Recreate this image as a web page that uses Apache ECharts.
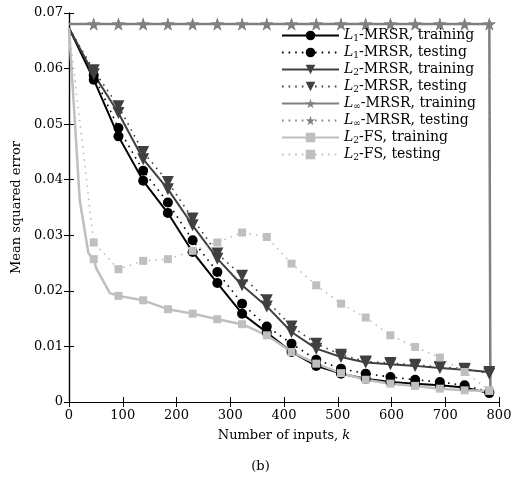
<!DOCTYPE html>
<html>
<head>
<meta charset="utf-8">
<script src="https://cdn.jsdelivr.net/npm/echarts@6/dist/echarts.min.js"></script>
<style>
  html, body { margin: 0; padding: 0; background: #fff; }
  #chart { width: 521px; height: 481px; }
</style>
</head>
<body>
<div id="chart"></div>
<script>
// 横轴上标记点所在的输入个数
const kMarks = [46, 92, 138, 184, 230, 276, 322, 368, 414, 460, 506, 552, 598, 644, 690, 736, 782];
const xTicks = [0, 100, 200, 300, 400, 500, 600, 700, 800];

// 起点 k = 0 的误差
const startMRSR = 0.0673;
const startInf = 0.068;

const l1Train = [0.0580, 0.0478, 0.0398, 0.0340, 0.0270, 0.0214, 0.0159, 0.0125, 0.0090, 0.0065, 0.0051, 0.0042, 0.0036, 0.0033, 0.0030, 0.0026, 0.0016];
const l1Test = [0.0588, 0.0493, 0.0416, 0.0359, 0.0291, 0.0234, 0.0177, 0.0136, 0.0105, 0.0076, 0.0060, 0.0051, 0.0045, 0.0040, 0.0036, 0.0030, 0.0018];
const l2Train = [0.0590, 0.0520, 0.0437, 0.0383, 0.0318, 0.0258, 0.0210, 0.0172, 0.0126, 0.0096, 0.0081, 0.0071, 0.0068, 0.0065, 0.0061, 0.0058, 0.0054];
const l2Test = [0.0597, 0.0532, 0.0450, 0.0396, 0.0330, 0.0267, 0.0227, 0.0183, 0.0136, 0.0105, 0.0085, 0.0073, 0.0070, 0.0067, 0.0063, 0.0060, 0.0051];
const infTrain = [0.068, 0.068, 0.068, 0.068, 0.068, 0.068, 0.068, 0.068, 0.068, 0.068, 0.068, 0.068, 0.068, 0.068, 0.068, 0.068, 0.068];
const infTest = [0.068, 0.068, 0.068, 0.068, 0.068, 0.068, 0.068, 0.068, 0.068, 0.068, 0.068, 0.068, 0.068, 0.068, 0.068, 0.068, 0.068];
const infEnd = [784, 0.0018];
const fsTrain = [0.0257, 0.0191, 0.0183, 0.0167, 0.0159, 0.0149, 0.0140, 0.0120, 0.0090, 0.0069, 0.0052, 0.0040, 0.0033, 0.0029, 0.0024, 0.0021, 0.0020];
const fsTest = [0.0287, 0.0239, 0.0254, 0.0257, 0.0272, 0.0287, 0.0305, 0.0297, 0.0249, 0.0210, 0.0177, 0.0152, 0.0120, 0.0099, 0.0080, 0.0054, 0.0021];
// L2-FS 训练曲线开头的陡降部分（无标记）
const fsTrainExtra = [[20, 0.0363], [36, 0.0268], [51, 0.0240], [76, 0.0196]];

const STAR = 'path://M50 0 L61.17 34.63 L97.55 34.55 L68.07 55.87 L79.39 90.45 L50 69 L20.61 90.45 L31.93 55.87 L2.45 34.55 L38.83 34.63 Z';
const FONT = 'DejaVu Serif';

/**
 * 组装一条曲线的数据：起点 + 标记点 + 额外无标记点
 */
function buildData(start, values, extra, end) {
  const pts = [{ value: [0, start], symbol: 'none' }];
  kMarks.forEach((k, i) => pts.push({ value: [k, values[i]] }));
  (extra || []).forEach(p => pts.push({ value: p, symbol: 'none' }));
  if (end) pts.push({ value: end, symbol: 'none' });
  pts.sort((a, b) => a.value[0] - b.value[0]);
  return pts;
}

function makeSeries(name, color, dotted, symbol, size, data, width) {
  return {
    name: name,
    type: 'line',
    data: data,
    symbol: symbol,
    symbolSize: size,
    symbolRotate: symbol === 'triangle' ? 180 : 0,
    showAllSymbol: true,
    itemStyle: { color: color },
    lineStyle: {
      color: color,
      width: dotted ? 1.6 : (width || 2),
      type: dotted ? [1.6, 5] : 'solid'
    },
    emphasis: { disabled: true },
    animation: false
  };
}

const chart = echarts.init(document.getElementById('chart'));

const option = {
  backgroundColor: '#fff',
  animation: false,
  grid: { left: 69, right: 22, top: 13, bottom: 79 },
  legend: {
    orient: 'vertical',
    left: 276,
    top: 23,
    itemWidth: 57,
    itemHeight: 12,
    itemGap: 2,
    selectedMode: false,
    formatter: function (name) {
      return name.replace(/^L(1|2|∞)/, '{it|L}{sub|$1}');
    },
    textStyle: {
      fontFamily: FONT,
      fontSize: 14,
      color: '#000',
      lineHeight: 15,
      rich: {
        it: { fontFamily: FONT, fontStyle: 'italic', fontSize: 14, lineHeight: 15 },
        sub: { fontFamily: FONT, fontSize: 9, lineHeight: 7, verticalAlign: 'bottom' }
      }
    }
  },
  xAxis: [
    {
      type: 'value', min: 0, max: 800, interval: 100,
      name: 'Number of inputs, {it|k}',
      nameLocation: 'middle',
      nameGap: 27,
      nameTextStyle: {
        fontFamily: FONT, fontSize: 13, color: '#000',
        rich: { it: { fontFamily: FONT, fontSize: 13, fontStyle: 'italic', color: '#000' } }
      },
      axisLine: { lineStyle: { color: '#000', width: 1.2 } },
      axisTick: { inside: true, length: 5, lineStyle: { color: '#000' } },
      axisLabel: {
        fontFamily: FONT, fontSize: 13, color: '#000', margin: 7,
        formatter: v => (xTicks.indexOf(v) >= 0 ? String(v) : '')
      },
      splitLine: { show: false }
    },
    {
      type: 'value', min: 0, max: 800, interval: 100, position: 'top',
      axisLine: { lineStyle: { color: '#000', width: 1.2 } },
      axisTick: { inside: true, length: 5, lineStyle: { color: '#000' } },
      axisLabel: { show: false },
      splitLine: { show: false }
    }
  ],
  yAxis: [
    {
      type: 'value', min: 0, max: 0.07, interval: 0.01,
      name: 'Mean squared error',
      nameLocation: 'middle',
      nameGap: 44,
      nameTextStyle: { fontFamily: FONT, fontSize: 13, color: '#000' },
      axisLine: { show: true, lineStyle: { color: '#000', width: 1.2 } },
      axisTick: { show: true, inside: true, length: 5, lineStyle: { color: '#000' } },
      axisLabel: {
        fontFamily: FONT, fontSize: 13, color: '#000', margin: 6,
        formatter: v => (v === 0 ? '0' : v.toFixed(2))
      },
      splitLine: { show: false }
    },
    {
      type: 'value', min: 0, max: 0.07, interval: 0.01, position: 'right',
      axisLine: { show: true, lineStyle: { color: '#000', width: 1.2 } },
      axisTick: { show: true, inside: true, length: 5, lineStyle: { color: '#000' } },
      axisLabel: { show: false },
      splitLine: { show: false }
    }
  ],
  graphic: [
    {
      type: 'text',
      left: 'center',
      top: 460,
      style: { text: '(b)', font: '13px "DejaVu Serif"', fill: '#000' }
    }
  ],
  series: [
    makeSeries('L1-MRSR, training', '#000000', false, 'circle', 10, buildData(startMRSR, l1Train)),
    makeSeries('L1-MRSR, testing', '#000000', true, 'circle', 10, buildData(startMRSR, l1Test)),
    makeSeries('L2-MRSR, training', '#404040', false, 'triangle', 12, buildData(startMRSR, l2Train)),
    makeSeries('L2-MRSR, testing', '#404040', true, 'triangle', 12, buildData(startMRSR, l2Test)),
    makeSeries('L∞-MRSR, training', '#808080', false, STAR, 13, buildData(startInf, infTrain, null, infEnd), 2.5),
    makeSeries('L∞-MRSR, testing', '#808080', true, STAR, 13, buildData(startInf, infTest, null, infEnd)),
    makeSeries('L2-FS, training', '#bfbfbf', false, 'rect', 8, buildData(startMRSR, fsTrain, fsTrainExtra), 2.5),
    makeSeries('L2-FS, testing', '#bfbfbf', true, 'rect', 8, buildData(startMRSR, fsTest))
  ]
};

chart.setOption(option);

window.addEventListener('resize', function () {
  chart.resize();
});
</script>
</body>
</html>
